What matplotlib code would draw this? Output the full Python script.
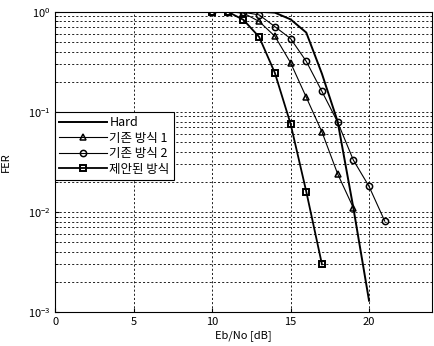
import numpy as np
import matplotlib.pyplot as plt
from matplotlib.ticker import LogLocator, NullFormatter

plt.rcParams['font.family'] = ['Noto Sans CJK KR', 'DejaVu Sans']

# ======================================================
# DATA
# ======================================================
hard_x = [10, 11, 12, 13, 14, 15, 16, 17, 18, 19, 20]
hard_y = [1.0, 1.0, 1.0, 1.0, 0.98, 0.84, 0.62, 0.24, 0.08, 0.011, 0.0013]

m1_x = [10, 11, 12, 13, 14, 15, 16, 17, 18, 19]
m1_y = [1.0, 1.0, 0.97, 0.80, 0.57, 0.31, 0.14, 0.063, 0.024, 0.011]

m2_x = [10, 11, 12, 13, 14, 15, 16, 17, 18, 19, 20, 21]
m2_y = [1.0, 1.0, 0.99, 0.93, 0.71, 0.54, 0.32, 0.16, 0.079, 0.033, 0.018, 0.0081]

prop_x = [10, 11, 12, 13, 14, 15, 16, 17]
prop_y = [1.0, 1.0, 0.83, 0.56, 0.245, 0.076, 0.016, 0.003]

labels = ["Hard", "기존 방식 1", "기존 방식 2", "제안된 방식"]

# ======================================================
# PLOT
# ======================================================
fig = plt.figure(figsize=(4.34, 3.46), dpi=100)
ax = fig.add_axes([0.127, 0.098, 0.868, 0.868])

ax.semilogy(hard_x, hard_y, color="black", linewidth=1.4, label=labels[0])
ax.semilogy(m1_x, m1_y, color="black", linewidth=0.8, marker="^",
            markersize=5, markerfacecolor="none", markeredgewidth=1.1, label=labels[1])
ax.semilogy(m2_x, m2_y, color="black", linewidth=0.8, marker="o",
            markersize=4.5, markerfacecolor="none", markeredgewidth=1.1, label=labels[2])
ax.semilogy(prop_x, prop_y, color="black", linewidth=1.3, marker="s",
            markersize=5, markerfacecolor="none", markeredgewidth=1.4, label=labels[3])

ax.set_xlim(0, 24)
ax.set_ylim(1e-3, 1)
ax.set_xticks([0, 5, 10, 15, 20])
ax.yaxis.set_major_locator(LogLocator(base=10, numticks=10))
ax.yaxis.set_minor_locator(LogLocator(base=10, subs=np.arange(2, 10), numticks=10))
ax.yaxis.set_minor_formatter(NullFormatter())

ax.grid(True, which="major", color="black", linestyle=(0, (2.5, 2.5)), linewidth=0.6)
ax.grid(True, which="minor", axis="y", color="black", linestyle=(0, (2.5, 2.5)), linewidth=0.6)

ax.tick_params(which="both", direction="in", labelsize=8, length=3)
ax.tick_params(which="minor", length=2)
for sp in ax.spines.values():
    sp.set_linewidth(0.8)

ax.set_xlabel("Eb/No [dB]", fontsize=8, labelpad=2)
ax.set_ylabel("FER", fontsize=8, labelpad=12)

leg = ax.legend(loc="upper left", bbox_to_anchor=(0.0, 0.667), fontsize=9,
                frameon=True, fancybox=False, borderaxespad=0, handlelength=3.8,
                borderpad=0.35, labelspacing=0.2, handletextpad=0.2)
leg.get_frame().set_edgecolor("black")
leg.get_frame().set_linewidth(0.8)
leg.get_frame().set_alpha(1)

fig.savefig("out.png", dpi=100)
